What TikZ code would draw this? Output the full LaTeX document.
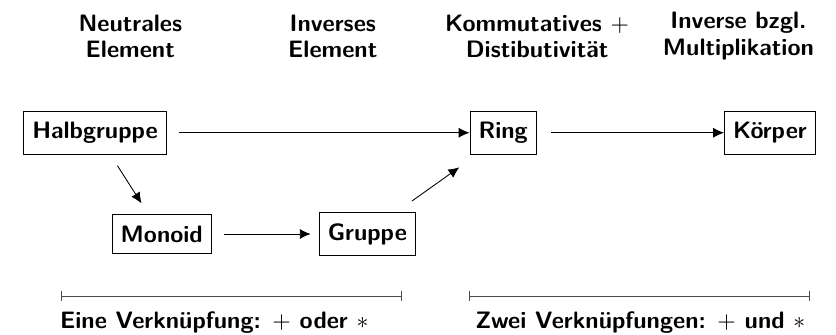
\documentclass[tikz,border=0pt]{standalone}
\usepackage{fontspec}
\usetikzlibrary{arrows.meta, positioning}

\begin{document}
\begin{tikzpicture}[font=\fontsize{10.95}{12.4}\selectfont\sffamily\bfseries,
        struktur/.style={draw, inner xsep=4pt, inner ysep=5pt},
        kopf/.style={align=center},
        pfeil/.style={-{Latex[length=5pt, width=4.6pt]}, shorten <=5.5pt}]
            \useasboundingbox (0, 0) rectangle (13.54, -5.41);
            % Strukturen
            \node[struktur] (halbgruppe) at (1.54, -2.15) {Halbgruppe};
            \node[struktur] (ring) at (8.15, -2.15) {Ring};
            \node[struktur] (koerper) at (12.47, -2.15) {Körper};
            \node[struktur] (monoid) at (2.62, -3.79) {Monoid};
            \node[struktur] (gruppe) at (5.95, -3.79) {Gruppe};
            % Eigenschaften oben
            \node[kopf] (neutral) at (2.11, -0.59) {Neutrales\\Element};
            \node[kopf] (invers) at (5.39, -0.59) {Inverses\\Element};
            \node[kopf] (distributiv) at (8.70, -0.59) {Kommutatives $+$\\Distibutivität};
            \node[kopf] (mult) at (11.96, -0.59) {Inverse bzgl.\\Multiplikation};
            % Pfeile
            \draw[pfeil] (halbgruppe) -- (ring);
            \draw[pfeil, shorten <=6.5pt] (ring) -- (koerper);
            \draw[pfeil, shorten >=3.7pt] (monoid) -- (gruppe);
            \draw[pfeil, shorten <=6pt, shorten >=6pt] (halbgruppe.-55) -- (monoid.124);
            \draw[pfeil, shorten <=8.7pt, shorten >=10pt] (gruppe.37) -- (ring.-140);
            % Verknuepfungen unten
            \coordinate (einsA) at (0.99, -4.80);
            \coordinate (einsB) at (6.51, -4.80);
            \coordinate (zweiA) at (7.60, -4.80);
            \coordinate (zweiB) at (13.12, -4.80);
            \draw[|-|, black!70] (einsA) -- (einsB);
            \draw[|-|, black!70] (zweiA) -- (zweiB);
            \node (eine) at (3.47, -5.22) {Eine Verknüpfung: $+$ oder $*$};
            \node (zwei) at (10.37, -5.22) {Zwei Verknüpfungen: $+$ und $*$};
        \end{tikzpicture}
\end{document}
